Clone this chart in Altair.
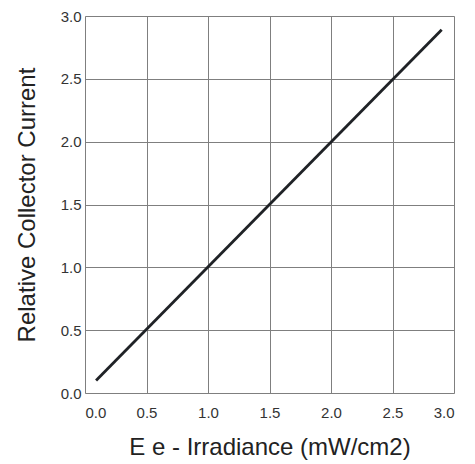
import altair as alt
import pandas as pd

# Data
irradiance = [0.09, 2.9]
rel_current = [0.1, 2.89]
x_ticks = [0.0, 0.5, 1.0, 1.5, 2.0, 2.5, 3.0]
y_ticks = [0.0, 0.5, 1.0, 1.5, 2.0, 2.5, 3.0]

df = pd.DataFrame({"x": irradiance, "y": rel_current})

font = "Liberation Sans"

line = alt.Chart(df).mark_line(color="#1f2226", strokeWidth=2.8).encode(
    x=alt.X("x:Q",
            scale=alt.Scale(domain=[0, 3], nice=False, zero=False),
            axis=alt.Axis(values=x_ticks, format=".1f", title="E e - Irradiance (mW/cm2)",
                          grid=True, gridColor="#7f7f7f", gridWidth=1, gridOpacity=1,
                          ticks=False, domain=False, labelFont=font, labelFontSize=15,
                          labelColor="#333333", labelPadding=12,
                          titleFont=font, titleFontSize=24, titleFontWeight="normal",
                          titleColor="#222222", titlePadding=15)),
    y=alt.Y("y:Q",
            scale=alt.Scale(domain=[0, 3], nice=False, zero=False),
            axis=alt.Axis(values=y_ticks, format=".1f", title="Relative Collector Current",
                          grid=True, gridColor="#7f7f7f", gridWidth=1, gridOpacity=1,
                          ticks=False, domain=False, labelFont=font, labelFontSize=15,
                          labelColor="#333333", labelPadding=4,
                          titleFont=font, titleFontSize=24, titleFontWeight="normal",
                          titleColor="#222222", titlePadding=21)),
)

chart = line.properties(
    width=369,
    height=377,
    autosize=alt.AutoSizeParams(type="none"),
    padding={"left": 85, "top": 16, "right": 21, "bottom": 71},
).configure_view(
    stroke="#2a2e34", strokeWidth=3
).configure(background="white")

chart.save("out.html", embed_options={"renderer": "svg", "actions": False})
